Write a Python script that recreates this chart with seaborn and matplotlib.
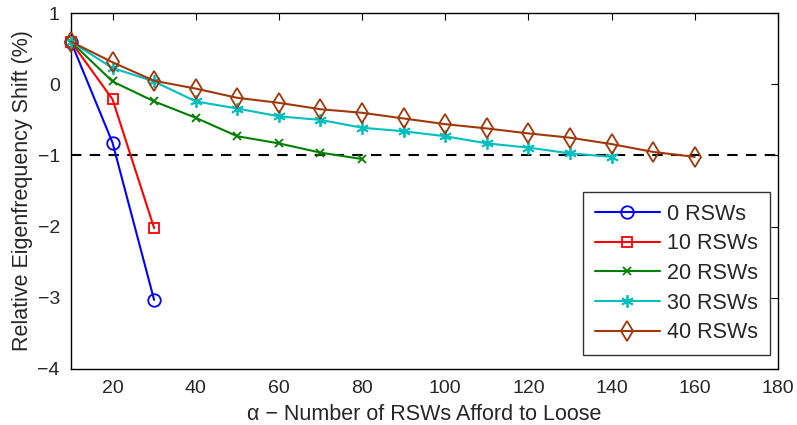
import pandas as pd
import matplotlib
matplotlib.use("Agg")
import matplotlib.pyplot as plt
import seaborn as sns

# Values
alpha_0 = [10, 20, 30]
shift_0 = [0.60, -0.82, -3.03]

alpha_10 = [10, 20, 30]
shift_10 = [0.60, -0.21, -2.02]

alpha_20 = [10, 20, 30, 40, 50, 60, 70, 80]
shift_20 = [0.60, 0.04, -0.24, -0.47, -0.73, -0.83, -0.96, -1.05]

alpha_30 = [10, 20, 30, 40, 50, 60, 70, 80, 90, 100, 110, 120, 130, 140]
shift_30 = [0.60, 0.23, 0.04, -0.24, -0.34, -0.45, -0.50, -0.61, -0.66,
            -0.73, -0.83, -0.89, -0.97, -1.02]

alpha_40 = [10, 20, 30, 40, 50, 60, 70, 80, 90, 100, 110, 120, 130, 140, 150, 160]
shift_40 = [0.60, 0.31, 0.05, -0.06, -0.19, -0.26, -0.35, -0.40, -0.48,
            -0.56, -0.62, -0.69, -0.75, -0.84, -0.95, -1.02]

labels = ["0 RSWs", "10 RSWs", "20 RSWs", "30 RSWs", "40 RSWs"]
colors = ["#0000ff", "#ff0000", "#008000", "#00bfbf", "#a0380a"]
markers = ["o", "s", "x", (6, 2, 0), "d"]
msizes = [9, 7, 6, 9, 10]

series = [(alpha_0, shift_0), (alpha_10, shift_10), (alpha_20, shift_20),
          (alpha_30, shift_30), (alpha_40, shift_40)]

sns.set_style("white")
plt.rcParams['font.family'] = ['Liberation Sans', 'DejaVu Sans']
txt = "#262626"

fig, ax = plt.subplots(figsize=(7.97, 4.25), dpi=100)

ax.axhline(-1, color="black", linestyle=(0, (5, 4)), linewidth=1.5, zorder=1)

for (x, y), lab, c, m, ms in zip(series, labels, colors, markers, msizes):
    df = pd.DataFrame({"alpha": x, "shift": y})
    sns.lineplot(data=df, x="alpha", y="shift", ax=ax, color=c, label=lab,
                 marker=m, markersize=ms, markerfacecolor="none",
                 markeredgecolor=c, markeredgewidth=1.3, linewidth=1.5,
                 zorder=3, clip_on=False)

ax.set_xlim(10, 180)
ax.set_ylim(-4, 1)
ax.set_xticks(range(20, 181, 20))
ax.set_yticks(range(-4, 2))
ax.set_xlabel("α − Number of RSWs Afford to Loose", fontsize=15.5, color=txt,
              labelpad=5)
ax.set_ylabel("Relative Eigenfrequency Shift (%)", fontsize=15.5, color=txt,
              labelpad=3)
ax.tick_params(direction="in", top=True, right=True, length=5, pad=8,
               labelsize=14, labelcolor=txt, color="black")
for s in ax.spines.values():
    s.set_color("black")
    s.set_linewidth(1)

leg = ax.legend(loc="lower right", fontsize=15.5, frameon=True, fancybox=False,
                edgecolor="black", handlelength=3.0, handletextpad=0.35,
                borderpad=0.55, labelspacing=0.4, borderaxespad=0,
                bbox_to_anchor=(0.989, 0.039))
leg.get_frame().set_linewidth(1)
for t in leg.get_texts():
    t.set_color(txt)

fig.subplots_adjust(left=0.089, right=0.976, top=0.969, bottom=0.132)
fig.savefig("out.png", dpi=100)
